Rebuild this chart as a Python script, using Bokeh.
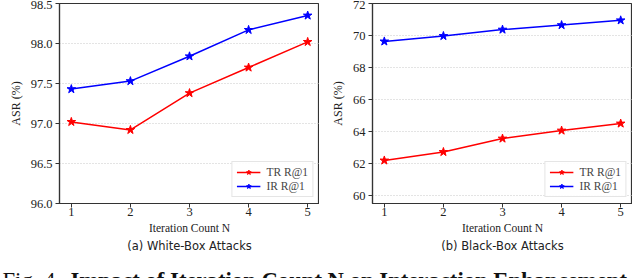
from bokeh.plotting import figure
from bokeh.layouts import column, row
from bokeh.models import Title, FixedTicker, Range1d, NumeralTickFormatter, Legend
from bokeh.embed import file_html
from bokeh.resources import INLINE
from bokeh.core.properties import value

iters = [1, 2, 3, 4, 5]
wb_tr = [97.02, 96.92, 97.38, 97.70, 98.02]
wb_ir = [97.43, 97.53, 97.84, 98.17, 98.35]
bb_tr = [62.19, 62.72, 63.56, 64.06, 64.50]
bb_ir = [69.63, 69.97, 70.37, 70.65, 70.95]
wb_yticks = [96.0, 96.5, 97.0, 97.5, 98.0, 98.5]
bb_yticks = [60, 62, 64, 66, 68, 70, 72]
series_names = ["TR R@1", "IR R@1"]
series_colors = ["#ff0000", "#0000ff"]

FONT = "Liberation Serif"
SANS = "DejaVu Sans"


def make_panel(tr, ir, yticks, yr, fmt, subcap, ml, mr):
    p = figure(frame_width=260, frame_height=200, output_backend="svg",
               toolbar_location=None, x_range=Range1d(0.8, 5.2),
               y_range=Range1d(*yr), min_border_left=ml, min_border_right=mr,
               min_border_top=3, min_border_bottom=0)
    p.outline_line_color = "#333333"
    p.outline_line_width = 1.2
    p.xgrid.visible = False
    p.ygrid.grid_line_color = "#c8c8c8"
    p.ygrid.grid_line_dash = "1 2"
    p.ygrid.grid_line_width = 1
    p.yaxis.ticker = FixedTicker(ticks=yticks)
    p.xaxis.ticker = FixedTicker(ticks=iters)
    p.yaxis.formatter = NumeralTickFormatter(format=fmt)
    for ax in (p.xaxis, p.yaxis):
        ax.axis_line_color = "#333333"
        ax.axis_line_width = 1.2
        ax.major_tick_line_color = "#333333"
        ax.major_tick_out = 4
        ax.major_tick_in = 0
        ax.minor_tick_line_color = None
        ax.major_label_text_font = FONT
        ax.major_label_text_font_size = "12.5px"
        ax.major_label_text_color = "#222222"
        ax.axis_label_text_font = FONT
        ax.axis_label_text_font_size = "12px"
        ax.axis_label_text_font_style = "normal"
        ax.axis_label_text_color = "#222222"
    p.yaxis.axis_label = "ASR (%)"
    p.xaxis.axis_label = "Iteration Count N"
    p.xaxis.axis_label_text_font_size = "11.5px"
    p.xaxis.axis_label_standoff = 3
    p.xaxis.major_label_standoff = 0
    p.yaxis.major_label_standoff = 3
    p.yaxis.axis_label_standoff = 5

    items = []
    for ys, name, col in zip((tr, ir), series_names, series_colors):
        l = p.line(iters, ys, line_color=col, line_width=1.5)
        s = p.scatter(iters, ys, marker="star", size=9, fill_color=col,
                      line_color=col)
        items.append((name, [l, s]))
    leg = Legend(items=items, location="bottom_right")
    leg.label_text_font = FONT
    leg.label_text_font_size = "11.5px"
    leg.label_height = 12
    leg.glyph_height = 12
    leg.glyph_width = 24
    leg.spacing = 2
    leg.padding = 4
    leg.margin = 6
    leg.label_standoff = 6
    leg.border_line_color = "#cccccc"
    leg.background_fill_alpha = 0.9
    p.add_layout(leg, "center")

    t = Title(text=subcap, align="center", text_font=SANS,
              text_font_size="11.5px", text_font_style="normal",
              text_color="#222222", offset=0, standoff=0)
    p.add_layout(t, "below")
    return p


p1 = make_panel(wb_tr, wb_ir, wb_yticks, (96.0, 98.5), "0.0",
                "(a) White-Box Attacks", 59, 0)
p2 = make_panel(bb_tr, bb_ir, bb_yticks, (59.5, 72.0), "0",
                "(b) Black-Box Attacks", 53, 0)

cap = figure(width=632, height=26, output_backend="svg", toolbar_location=None,
             x_range=Range1d(0, 632), y_range=Range1d(0, 26),
             min_border=0)
cap.axis.visible = False
cap.grid.visible = False
cap.outline_line_color = None
cap.text(x=[2], y=[-2], text=["Fig. 4."], text_font=value(FONT),
         text_font_size="22.7px", text_baseline="alphabetic", text_color="#111111")
cap.text(x=[70], y=[-2], text=["Impact of Iteration Count N on Interaction Enhancement"],
         text_font=value(FONT), text_font_size="22.7px", text_font_style="bold",
         text_baseline="alphabetic", text_color="#111111")

layout = column(row(p1, p2), cap)
open("out.html", "w").write(file_html(layout, INLINE))
